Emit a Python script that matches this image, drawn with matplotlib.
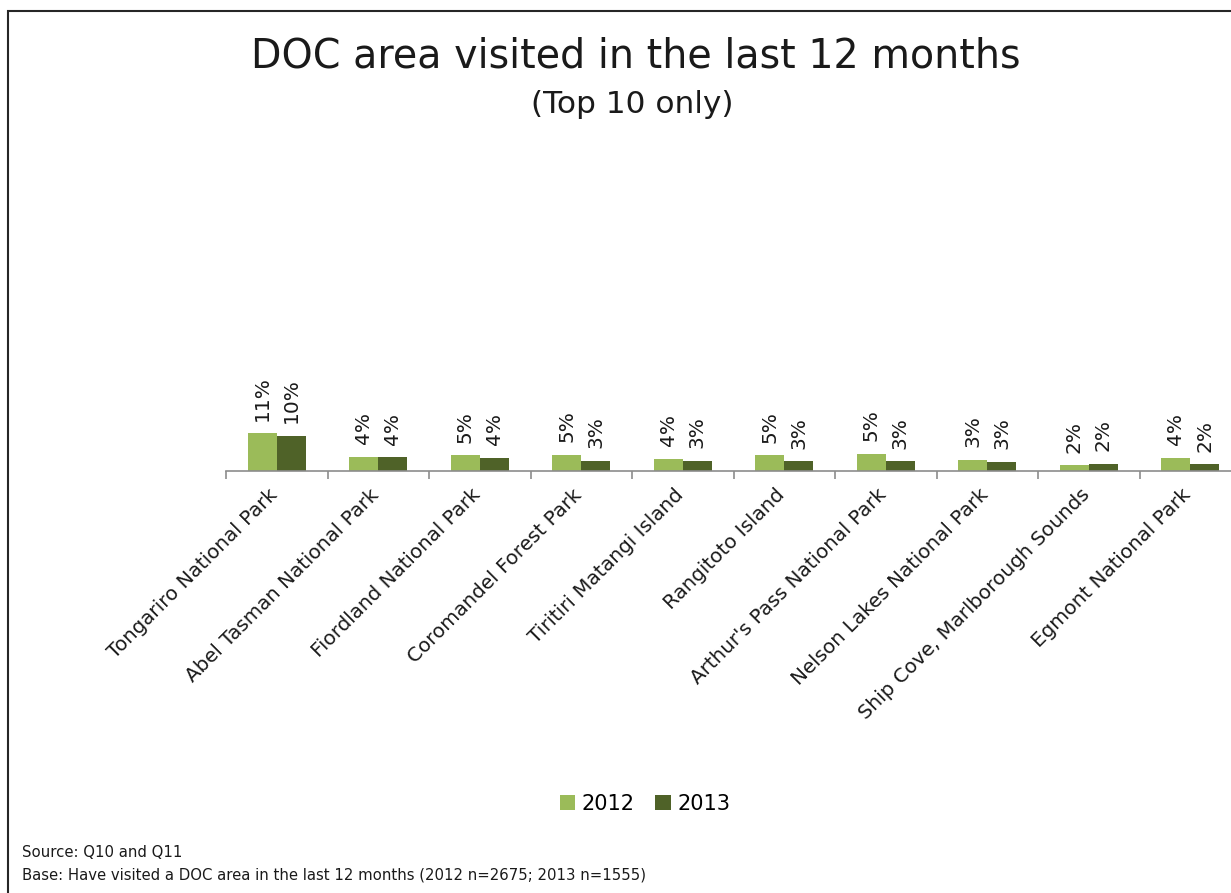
import matplotlib
matplotlib.use('Agg')
import matplotlib.pyplot as plt
import matplotlib.transforms as mtransforms
from matplotlib.patches import Rectangle
import numpy as np

# data (percent of respondents)
areas = ['Tongariro National Park', 'Abel Tasman National Park', 'Fiordland National Park',
         'Coromandel Forest Park', 'Tiritiri Matangi Island', 'Rangitoto Island',
         "Arthur's Pass National Park", 'Nelson Lakes National Park',
         'Ship Cove, Marlborough Sounds', 'Egmont National Park']
pct_2012 = [11.2, 4.2, 4.6, 4.8, 3.6, 4.6, 5.1, 3.2, 1.6, 3.9]
pct_2013 = [10.4, 4.0, 3.9, 3.0, 3.0, 2.8, 2.8, 2.6, 2.0, 1.9]
years = ['2012', '2013']

light_green = '#9BBB59'
dark_green = '#4F6228'
W, H = 1231, 893

plt.rcParams['font.family'] = ['DejaVu Sans']

fig = plt.figure(figsize=(W / 100, H / 100), dpi=100)
fig.patch.set_facecolor('white')

# slide frame (only left and top edges are visible in the crop)
fig.add_artist(Rectangle((8 / W, -0.1), 1.2, 1 - 11 / H + 0.1, transform=fig.transFigure,
                         fill=False, edgecolor='#262626', linewidth=1.5))

left, right = 226, 1241
base, top = 470.5, 137.5
ax = fig.add_axes([left / W, (H - base) / H, (right - left) / W, (base - top) / H])

x = np.arange(len(areas))
bw = 0.285
b1 = ax.bar(x - bw / 2, pct_2012, bw, color=light_green, label=years[0])
b2 = ax.bar(x + bw / 2, pct_2013, bw, color=dark_green, label=years[1])

for bars, vals in ((b1, pct_2012), (b2, pct_2013)):
    for rect, v in zip(bars, vals):
        ax.annotate(f'{v:.0f}%', (rect.get_x() + rect.get_width() / 2, rect.get_height()),
                    xytext=(0, 9), textcoords='offset points', rotation=90,
                    ha='center', va='bottom', fontsize=14.5, color='#1a1a1a')

ax.set_xlim(-0.5, len(areas) - 0.5)
ax.set_ylim(0, 100)
ax.set_yticks([])
for s in ('top', 'right', 'left'):
    ax.spines[s].set_visible(False)
ax.spines['bottom'].set_color('#8c8c8c')
ax.spines['bottom'].set_linewidth(1.2)

ax.set_xticks(x)
ax.set_xticklabels(areas, rotation=45, ha='right', rotation_mode='anchor',
                   fontsize=14.3, color='#1a1a1a')
ax.tick_params(axis='x', which='major', length=0, pad=12)
shift = mtransforms.ScaledTranslation(-9 / 100, 2 / 100, fig.dpi_scale_trans)
for lbl in ax.get_xticklabels():
    lbl.set_transform(lbl.get_transform() + shift)
ax.set_xticks(np.arange(-0.5, len(areas), 1.0), minor=True)
ax.tick_params(axis='x', which='minor', length=6, width=1.2, color='#8c8c8c')
ax.set_facecolor('none')

fig.text(636 / W, 1 - 67 / H, 'DOC area visited in the last 12 months', ha='center',
         va='baseline', fontsize=28.5, color='#1a1a1a')
fig.text(632 / W, 1 - 113 / H, '(Top 10 only)', ha='center', va='baseline',
         fontsize=22.5, color='#1a1a1a')

fig.legend(handles=[b1, b2], labels=years, loc='center', bbox_to_anchor=(645 / W, 1 - 804 / H),
           ncol=2, frameon=False, fontsize=15, handlelength=0.75, handleheight=0.75,
           handletextpad=0.3, columnspacing=1.0)

fig.text(22 / W, 1 - 857 / H, 'Source: Q10 and Q11', ha='left', va='baseline',
         fontsize=10.7, color='#1a1a1a')
fig.text(22 / W, 1 - 879 / H,
         'Base: Have visited a DOC area in the last 12 months (2012 n=2675; 2013 n=1555)',
         ha='left', va='baseline', fontsize=10.7, color='#1a1a1a')

fig.savefig('out.png', dpi=100)
